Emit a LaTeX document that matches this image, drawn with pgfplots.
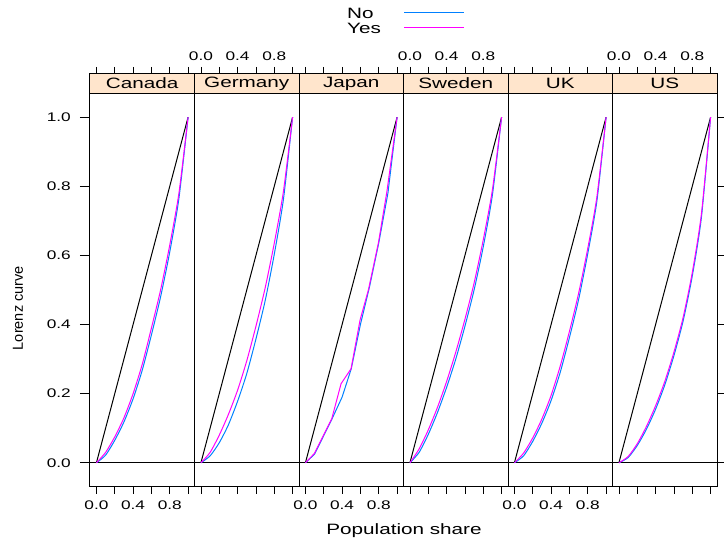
\documentclass[border=0pt]{standalone}
\usepackage{fontspec}
\setmainfont{Liberation Sans}[FakeStretch=1.38]
\newfontfamily\ylabfont{Liberation Sans}
\usepackage{pgfplots}
\usepackage{pgfplotstable}
\pgfplotsset{compat=1.18}
\definecolor{stripbg}{HTML}{FFE5CC}
\definecolor{nocol}{HTML}{0080FF}
\definecolor{yescol}{HTML}{FF00FF}
\newcommand\tickfont{\fontsize{12.5}{14}\selectfont}
\newcommand\labfont{\fontsize{15}{17}\selectfont}

% p, No, Yes
\pgfplotstableread{
p    no     yes
0.0  0.000  0.000
0.1  0.022  0.030
0.2  0.065  0.075
0.3  0.118  0.130
0.4  0.185  0.200
0.5  0.268  0.285
0.6  0.370  0.390
0.7  0.480  0.500
0.8  0.610  0.630
0.9  0.765  0.780
1.0  1.000  1.000
}\canada
\pgfplotstableread{
p    no     yes
0.0  0.000  0.000
0.1  0.020  0.030
0.2  0.058  0.080
0.3  0.110  0.140
0.4  0.178  0.210
0.5  0.258  0.295
0.6  0.358  0.395
0.7  0.468  0.505
0.8  0.603  0.635
0.9  0.762  0.785
1.0  1.000  1.000
}\germany
\pgfplotstableread{
p      no
0.0    0.000
0.10   0.025
0.29   0.127
0.40   0.190
0.50   0.272
0.60   0.400
0.70   0.510
0.80   0.636
0.90   0.780
1.0    1.000
}\japanno
\pgfplotstableread{
p      yes
0.0    0.000
0.098  0.027
0.287  0.127
0.389  0.229
0.498  0.272
0.596  0.413
0.687  0.500
0.796  0.636
0.887  0.781
1.0    1.000
}\japanyes
\pgfplotstableread{
p    no     yes
0.0  0.000  0.000
0.1  0.030  0.040
0.2  0.082  0.095
0.3  0.145  0.160
0.4  0.218  0.235
0.5  0.300  0.320
0.6  0.395  0.415
0.7  0.500  0.520
0.8  0.625  0.645
0.9  0.775  0.790
1.0  1.000  1.000
}\sweden
\pgfplotstableread{
p    no     yes
0.0  0.000  0.000
0.1  0.020  0.028
0.2  0.062  0.072
0.3  0.115  0.127
0.4  0.180  0.195
0.5  0.262  0.280
0.6  0.362  0.380
0.7  0.472  0.490
0.8  0.605  0.620
0.9  0.758  0.770
1.0  1.000  1.000
}\uk
\pgfplotstableread{
p    no     yes
0.0  0.000  0.000
0.1  0.015  0.018
0.2  0.050  0.055
0.3  0.097  0.105
0.4  0.155  0.165
0.5  0.225  0.235
0.6  0.310  0.320
0.7  0.410  0.420
0.8  0.540  0.550
0.9  0.710  0.720
1.0  1.000  1.000
}\us

\pgfplotsset{
  panel/.style={
    scale only axis, width=104.5pt, height=413pt,
    anchor=south west,
    xmin=-0.07, xmax=1.07, ymin=-0.07, ymax=1.125,
    axis on top=true,
    axis line style={line width=1pt, black},
    tick style={line width=0.8pt, black},
    tick align=outside,
    major tick length=7pt,
    xtick={0,0.2,0.4,0.6,0.8,1.0},
    xticklabels={0.0,,0.4,,0.8,},
    ytick=\empty,
    tick label style={font=\tickfont},
    clip=false,
  },
  lowlab/.style={xticklabel pos=lower, xtick pos=both,
    xticklabel style={inner ysep=0pt, yshift=-7pt}},
  uplab/.style={xticklabel pos=upper, xtick pos=both,
    xticklabel style={inner ysep=0pt, yshift=6pt}},
}

\newcommand\stripframe[1]{%
  \fill[stripbg] (axis cs:-0.07,1.07) rectangle (axis cs:1.07,1.125);
  \draw[line width=1pt] (axis cs:-0.07,1.07) -- (axis cs:1.07,1.07);
  \node[font=\labfont] at (axis cs:0.5,1.0975) {#1};
}
\newcommand\basics{%
  \addplot[black, line width=0.8pt, forget plot] coordinates {(-0.07,0) (1.07,0)};
  \addplot[black, line width=1pt, forget plot] coordinates {(0,0) (1,1)};
}

\begin{document}
\begin{tikzpicture}
\useasboundingbox (0,0) rectangle (724pt,540pt);

% Canada
\begin{axis}[panel, lowlab, at={(90pt,53pt)},
  ytick={0,0.2,0.4,0.6,0.8,1.0},
  yticklabels={0.0,0.2,0.4,0.6,0.8,1.0},
  ytick pos=left,
  y tick style={/pgfplots/major tick length=10pt},
  yticklabel style={inner xsep=0pt, xshift=-12pt},
  ylabel={\ylabfont\fontsize{14.5}{16}\selectfont Lorenz curve},
  every axis y label/.style={at={(axis description cs:-0.689,0.433)}, rotate=90, anchor=center},
  legend style={at={(axis description cs:2.45,1.1646)}, anchor=north west,
    draw=none, fill=none, font=\labfont, inner sep=0pt, row sep=2pt,
    nodes={inner xsep=1pt, inner ysep=1pt, text height=11pt, text depth=0pt}},
  legend cell align=left, legend plot pos=right,
  legend image code/.code={\path (0pt,0pt); \draw[#1] (22pt,0pt) -- (82pt,0pt);},
]
\addlegendimage{draw=nocol, line width=1pt}
\addlegendentry{No}
\addlegendimage{draw=yescol, line width=1pt}
\addlegendentry{Yes}
\stripframe{Canada}
\basics
\addplot[nocol, line width=1pt, smooth, tension=0.4, forget plot] table[x=p,y=no] {\canada};
\addplot[yescol, line width=1pt, smooth, tension=0.4, forget plot] table[x=p,y=yes] {\canada};
\end{axis}

% Germany
\begin{axis}[panel, uplab, at={(194.5pt,53pt)}]
\stripframe{Germany}
\basics
\addplot[nocol, line width=1pt, smooth, tension=0.4] table[x=p,y=no] {\germany};
\addplot[yescol, line width=1pt, smooth, tension=0.4] table[x=p,y=yes] {\germany};
\end{axis}

% Japan
\begin{axis}[panel, lowlab, at={(299pt,53pt)}]
\stripframe{Japan}
\basics
\addplot[nocol, line width=1pt] table[x=p,y=no] {\japanno};
\addplot[yescol, line width=1pt] table[x=p,y=yes] {\japanyes};
\end{axis}

% Sweden
\begin{axis}[panel, uplab, at={(403.5pt,53pt)}]
\stripframe{Sweden}
\basics
\addplot[nocol, line width=1pt, smooth, tension=0.4] table[x=p,y=no] {\sweden};
\addplot[yescol, line width=1pt, smooth, tension=0.4] table[x=p,y=yes] {\sweden};
\end{axis}

% UK
\begin{axis}[panel, lowlab, at={(508pt,53pt)}]
\stripframe{UK}
\basics
\addplot[nocol, line width=1pt, smooth, tension=0.4] table[x=p,y=no] {\uk};
\addplot[yescol, line width=1pt, smooth, tension=0.4] table[x=p,y=yes] {\uk};
\end{axis}

% US
\begin{axis}[panel, uplab, at={(612.5pt,53pt)},
  ytick={0,0.2,0.4,0.6,0.8,1.0},
  yticklabels={},
  ytick pos=right,
  y tick style={/pgfplots/major tick length=7pt},
]
\stripframe{US}
\basics
\addplot[nocol, line width=1pt, smooth, tension=0.4] table[x=p,y=no] {\us};
\addplot[yescol, line width=1pt, smooth, tension=0.4] table[x=p,y=yes] {\us};
\end{axis}

\node[font=\labfont] at (404pt,9pt) {Population share};
\end{tikzpicture}
\end{document}
